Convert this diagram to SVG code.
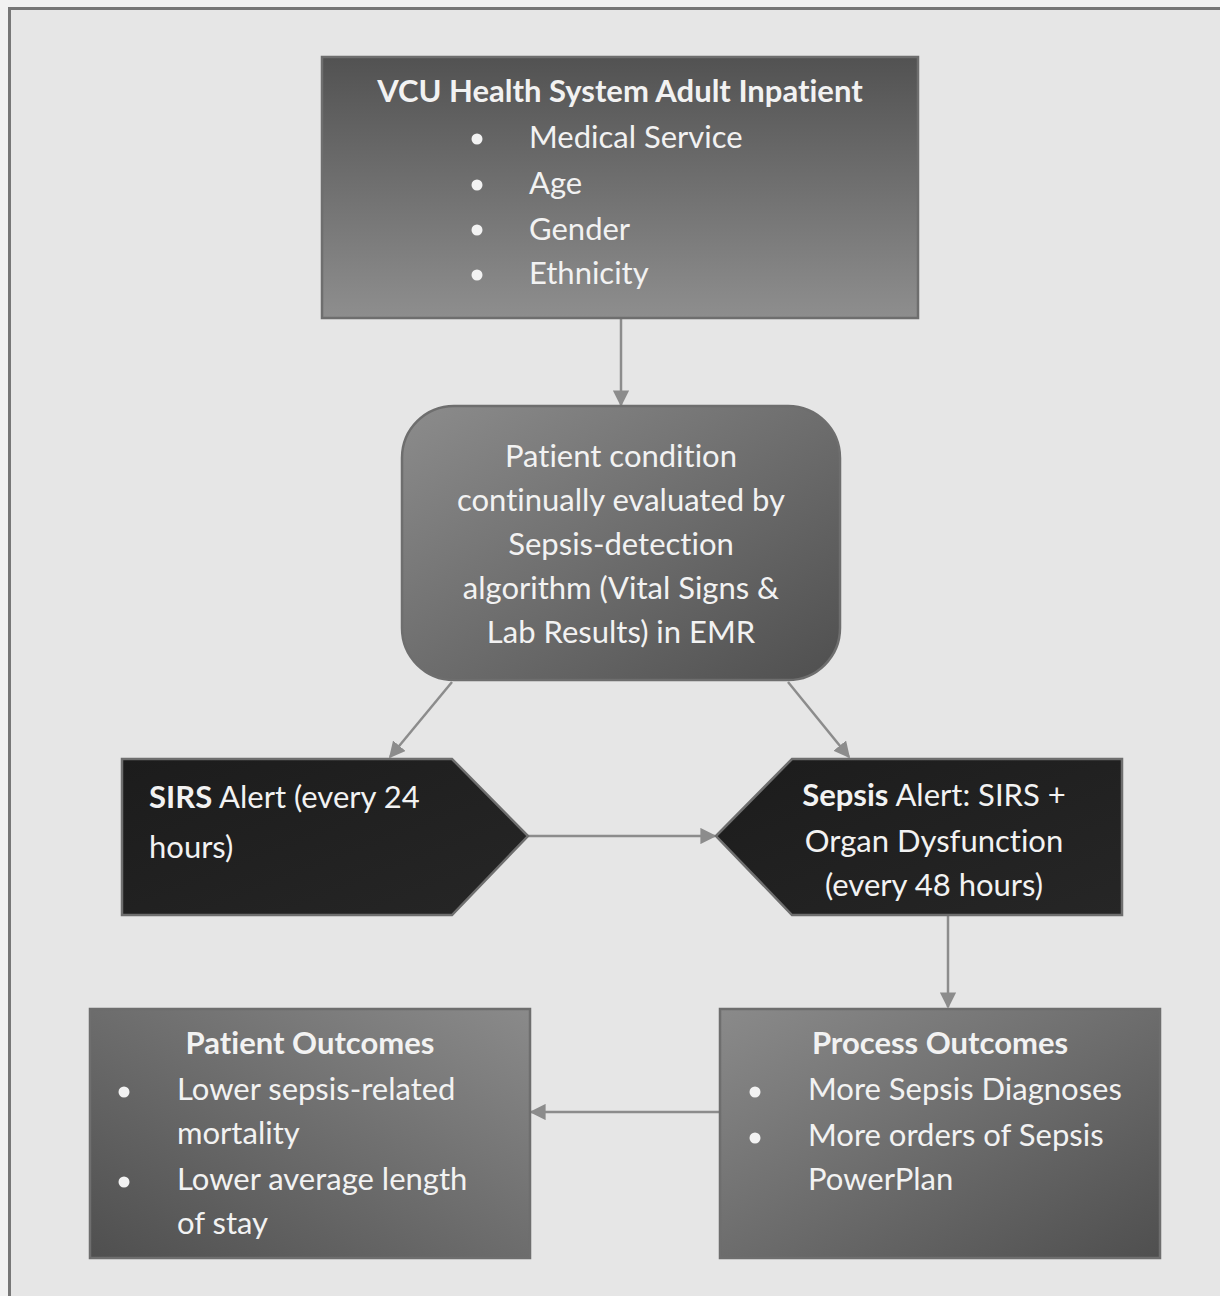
<svg xmlns="http://www.w3.org/2000/svg" width="1220" height="1296" viewBox="0 0 1220 1296">
<style>
  text { font-family: Lato, "Open Sans", "Liberation Sans", sans-serif; fill: #f2f2f2; font-size: 31px; font-variant-ligatures: none; }
  .b { font-weight: bold; }
  .c { text-anchor: middle; }
  .box { stroke: #6e6e6e; stroke-width: 2.5; }
  .dark { stroke: #6e6e6e; stroke-width: 2.5; }
  .conn line { stroke: #8c8c8c; stroke-width: 2.5; }
</style>
<defs>
  <linearGradient id="gTop" x1="0" y1="0" x2="0" y2="1">
    <stop offset="0" stop-color="#525252"/>
    <stop offset="1" stop-color="#8e8e8e"/>
  </linearGradient>
  <linearGradient id="gMid" x1="0" y1="0" x2="1" y2="1">
    <stop offset="0" stop-color="#8c8c8c"/>
    <stop offset="1" stop-color="#4f4f4f"/>
  </linearGradient>
  <linearGradient id="gLeft" x1="1" y1="0" x2="0" y2="1">
    <stop offset="0" stop-color="#8a8a8a"/>
    <stop offset="1" stop-color="#4f4f4f"/>
  </linearGradient>
  <linearGradient id="gRight" x1="0" y1="0" x2="1" y2="1">
    <stop offset="0" stop-color="#8a8a8a"/>
    <stop offset="1" stop-color="#4f4f4f"/>
  </linearGradient>
  <linearGradient id="gDark" x1="0" y1="0" x2="1" y2="1">
    <stop offset="0" stop-color="#1c1c1c"/>
    <stop offset="1" stop-color="#262626"/>
  </linearGradient>
  <marker id="arr" viewBox="0 0 10 10" refX="9" refY="5" markerWidth="6.5" markerHeight="6.5" markerUnits="strokeWidth" orient="auto">
    <path d="M0,0 L10,5 L0,10 z" fill="#8c8c8c"/>
  </marker>
</defs>
<rect x="0" y="0" width="1220" height="1296" fill="#f2f2f2"/>
<rect x="9.5" y="8.5" width="1230" height="1310" fill="#e6e6e6" stroke="#777777" stroke-width="3"/>

<g class="conn">
  <line x1="621" y1="318" x2="621" y2="405" marker-end="url(#arr)"/>
  <line x1="452" y1="682" x2="390" y2="757" marker-end="url(#arr)"/>
  <line x1="788" y1="682" x2="849" y2="757" marker-end="url(#arr)"/>
  <line x1="528" y1="836" x2="715" y2="836" marker-end="url(#arr)"/>
  <line x1="948" y1="916" x2="948" y2="1007" marker-end="url(#arr)"/>
  <line x1="720" y1="1112" x2="531" y2="1112" marker-end="url(#arr)"/>
</g>

<g id="node-population">
  <rect class="box" x="322" y="57" width="596" height="261" fill="url(#gTop)"/>
  <text class="b c" x="620" y="102">VCU Health System Adult Inpatient</text>
  <circle cx="477" cy="139" r="5.5" fill="#f2f2f2"/>
  <circle cx="477" cy="185" r="5.5" fill="#f2f2f2"/>
  <circle cx="477" cy="230" r="5.5" fill="#f2f2f2"/>
  <circle cx="477" cy="275" r="5.5" fill="#f2f2f2"/>
  <text x="529" y="148">Medical Service</text>
  <text x="529" y="194">Age</text>
  <text x="529" y="240">Gender</text>
  <text x="529" y="284">Ethnicity</text>
</g>

<g id="node-algorithm">
  <rect class="box" x="402" y="406" width="438" height="274" rx="52" ry="52" fill="url(#gMid)"/>
  <text class="c" x="621" y="467">Patient condition</text>
  <text class="c" x="621" y="511">continually evaluated by</text>
  <text class="c" x="621" y="555">Sepsis-detection</text>
  <text class="c" x="621" y="599">algorithm (Vital Signs &amp;</text>
  <text class="c" x="621" y="643">Lab Results) in EMR</text>
</g>

<g id="node-sirs">
  <polygon class="dark" points="122,759 452,759 528,836 452,915 122,915" fill="url(#gDark)"/>
  <text x="149" y="808"><tspan class="b">SIRS</tspan> Alert (every 24</text>
  <text x="149" y="858">hours)</text>
</g>

<g id="node-sepsis">
  <polygon class="dark" points="716,836 792,759 1122,759 1122,915 792,915" fill="url(#gDark)"/>
  <text class="c" x="934" y="806"><tspan class="b">Sepsis</tspan> Alert: SIRS +</text>
  <text class="c" x="934" y="852">Organ Dysfunction</text>
  <text class="c" x="934" y="896">(every 48 hours)</text>
</g>

<g id="node-patient-outcomes">
  <rect class="box" x="90" y="1009" width="440" height="249" fill="url(#gLeft)"/>
  <text class="b c" x="310" y="1054">Patient Outcomes</text>
  <circle cx="124" cy="1092" r="5.5" fill="#f2f2f2"/>
  <circle cx="124" cy="1182" r="5.5" fill="#f2f2f2"/>
  <text x="177" y="1100">Lower sepsis-related</text>
  <text x="177" y="1144">mortality</text>
  <text x="177" y="1190">Lower average length</text>
  <text x="177" y="1234">of stay</text>
</g>

<g id="node-process-outcomes">
  <rect class="box" x="720" y="1009" width="440" height="249" fill="url(#gRight)"/>
  <text class="b c" x="940" y="1054">Process Outcomes</text>
  <circle cx="755" cy="1092" r="5.5" fill="#f2f2f2"/>
  <circle cx="755" cy="1138" r="5.5" fill="#f2f2f2"/>
  <text x="808" y="1100">More Sepsis Diagnoses</text>
  <text x="808" y="1146">More orders of Sepsis</text>
  <text x="808" y="1190">PowerPlan</text>
</g>
</svg>
